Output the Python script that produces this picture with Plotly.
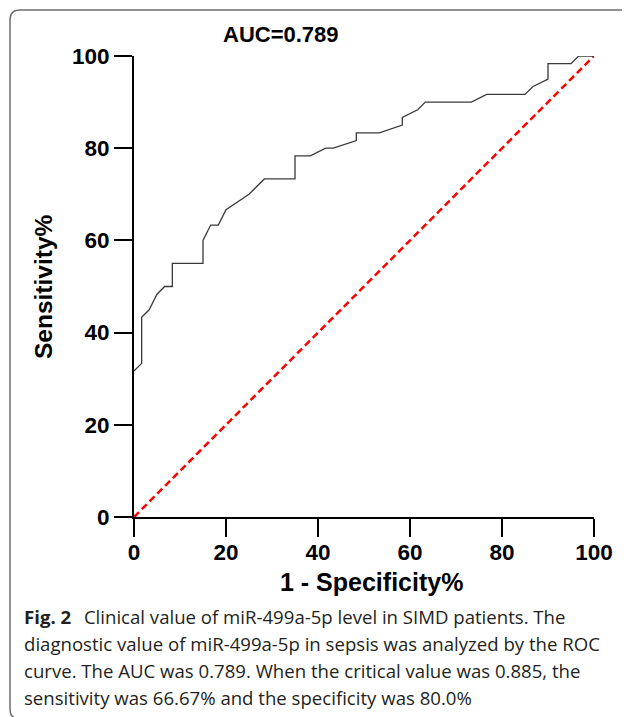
import plotly.graph_objects as go

# ROC curve data (1 - specificity %, sensitivity %)
fpr = [0, 1.67, 1.67, 3.33, 5, 6.67, 8.33, 8.33, 15, 15, 16.67, 18.33, 20, 25, 28.33,
       35, 35, 38.33, 41.67, 43.33, 48.33, 48.33, 53.33, 58.33, 58.33, 61.67, 63.33,
       73.33, 76.67, 85, 86.67, 90, 90, 95, 96.67, 100]
tpr = [31.67, 33.33, 43.33, 45, 48.33, 50, 50, 55, 55, 60, 63.33, 63.33, 66.67, 70, 73.33,
       73.33, 78.33, 78.33, 80, 80, 81.67, 83.33, 83.33, 85, 86.67, 88.33, 90,
       90, 91.67, 91.67, 93.33, 95, 98.33, 98.33, 100, 100]
ref_x = [0, 100]
ref_y = [0, 100]
tick_vals = [0, 20, 40, 60, 80, 100]
tick_text = ["0", "20", "40", "60", "80", "100"]

title_text = "AUC=0.789"
x_title = "1 - Specificity%"
y_title = "Sensitivity%"
caption_lines = [
    "<b>Fig. 2</b>\u00a0\u00a0\u2009Clinical value of miR-499a-5p level in SIMD patients. The",
    "diagnostic value of miR-499a-5p in sepsis was analyzed by the ROC",
    "curve. The AUC was 0.789. When the critical value was 0.885, the",
    "sensitivity was 66.67% and the specificity was 80.0%",
]

OFF = 8  # page body margin
W, H = 630 - OFF, 717 - OFF
L, R, T, B = 134 - OFF, 594 - OFF, 56 - OFF, 517 - OFF  # plot area in figure pixels


def px(x):
    return (x - OFF - L) / (R - L)


def py(y):
    return (B - (y - OFF)) / (B - T)


fig = go.Figure()
fig.add_trace(go.Scatter(x=ref_x, y=ref_y, mode="lines",
                         line=dict(color="#ff0000", width=2.5, dash="7px,4px"),
                         hoverinfo="skip", showlegend=False))
fig.add_trace(go.Scatter(x=fpr, y=tpr, mode="lines",
                         line=dict(color="#3a3a3a", width=1.3),
                         showlegend=False))

axis_common = dict(
    range=[0, 100], showgrid=False, zeroline=False, showline=True,
    linecolor="black", linewidth=2, ticks="outside", ticklen=18, tickwidth=2,
    tickcolor="black", tickvals=tick_vals, ticktext=tick_text,
    tickfont=dict(family="Liberation Sans", size=22.5, color="black", weight="bold"),
)
fig.update_xaxes(**axis_common, ticklabelstandoff=-4)
fig.update_yaxes(**axis_common, ticklabelstandoff=0)

annotations = [
    dict(text="<b>%s</b>" % title_text, x=px(281), y=py(35), xref="paper", yref="paper",
         showarrow=False, xanchor="center", yanchor="middle",
         font=dict(family="Liberation Sans", size=22, color="black")),
    dict(text="<b>%s</b>" % x_title, x=px(371), y=py(582), xref="paper", yref="paper",
         showarrow=False, xanchor="center", yanchor="middle",
         font=dict(family="Liberation Sans", size=25, color="black")),
    dict(text="<b>%s</b>" % y_title, x=px(43), y=py(287), xref="paper", yref="paper",
         showarrow=False, xanchor="center", yanchor="middle", textangle=-90,
         font=dict(family="Liberation Sans", size=24.5, color="black")),
]
caption_y = [616, 643, 670, 697]
for line, yy in zip(caption_lines, caption_y):
    annotations.append(dict(text=line, x=px(22), y=py(yy), xref="paper", yref="paper",
                            showarrow=False, xanchor="left", yanchor="middle",
                            font=dict(family="Open Sans", size=18.6, color="#231f20")))

# rounded frame
x0, x1, y0, y1, r = 10, 631, 10, 719, 10
path = (f"M {px(x0)},{py(y0 + r)} Q {px(x0)},{py(y0)} {px(x0 + r)},{py(y0)} "
        f"L {px(x1 - r)},{py(y0)} Q {px(x1)},{py(y0)} {px(x1)},{py(y0 + r)} "
        f"L {px(x1)},{py(y1 - r)} Q {px(x1)},{py(y1)} {px(x1 - r)},{py(y1)} "
        f"L {px(x0 + r)},{py(y1)} Q {px(x0)},{py(y1)} {px(x0)},{py(y1 - r)} Z")

fig.update_layout(
    width=W, height=H,
    margin=dict(l=L, r=W - R, t=T, b=H - B, pad=0),
    paper_bgcolor="white", plot_bgcolor="white",
    annotations=annotations,
    shapes=[dict(type="path", path=path, xref="paper", yref="paper",
                 line=dict(color="#6d6e71", width=1.5), layer="below")],
)

fig.write_html("out.html")
